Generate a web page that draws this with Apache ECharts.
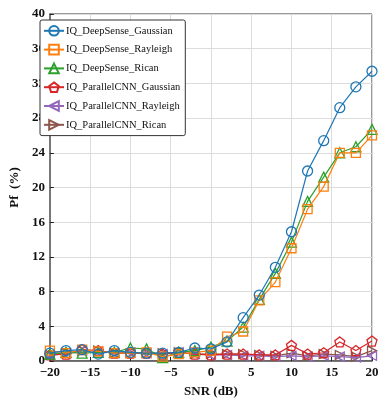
<!DOCTYPE html>
<html>
<head>
<meta charset="utf-8">
<script src="https://cdn.jsdelivr.net/npm/echarts@6/dist/echarts.min.js"></script>
<style>
  html, body { margin: 0; padding: 0; background: #fff; }
  #chart { width: 385px; height: 404px; }
</style>
</head>
<body>
<div id="chart"></div>
<script>
const snr = [-20, -18, -16, -14, -12, -10, -8, -6, -4, -2, 0, 2, 4, 6, 8, 10, 12, 14, 16, 18, 20];
const yTicks = [0, 4, 8, 12, 16, 20, 24, 28, 32, 36, 40];

const dsGaussian = [0.9, 1.2, 1.3, 0.8, 1.2, 1.0, 0.9, 0.9, 1.0, 1.5, 1.4, 2.2, 5.0, 7.6, 10.8, 14.9, 21.9, 25.4, 29.2, 31.6, 33.4];
const dsRayleigh = [1.2, 0.9, 1.3, 1.1, 0.9, 0.9, 1.0, 0.5, 0.8, 1.0, 1.2, 2.8, 3.4, 7.0, 9.1, 13.0, 17.5, 20.1, 24.0, 24.0, 26.0];
const dsRican = [0.8, 1.0, 0.9, 1.0, 1.0, 1.5, 1.4, 0.4, 1.0, 1.2, 1.6, 2.3, 3.9, 7.1, 10.1, 13.7, 18.4, 21.2, 24.0, 24.7, 26.7];
const pcGaussian = [0.7, 0.8, 1.3, 1.2, 0.9, 0.9, 0.9, 0.8, 1.0, 0.8, 0.7, 0.8, 0.8, 0.7, 0.7, 1.8, 0.8, 0.95, 2.2, 1.2, 2.3];
const pcRayleigh = [0.7, 0.8, 1.2, 1.1, 0.9, 1.0, 0.9, 0.8, 1.0, 0.8, 0.7, 0.7, 0.6, 0.6, 0.5, 0.6, 0.5, 0.6, 0.5, 0.4, 0.6];
const pcRican = [0.7, 0.9, 1.2, 1.2, 0.9, 0.9, 0.9, 0.9, 1.0, 0.8, 0.8, 0.8, 0.8, 0.7, 0.6, 0.9, 0.6, 0.8, 0.7, 0.5, 1.2];

const names = ["IQ_DeepSense_Gaussian", "IQ_DeepSense_Rayleigh", "IQ_DeepSense_Rican",
  "IQ_ParallelCNN_Gaussian", "IQ_ParallelCNN_Rayleigh", "IQ_ParallelCNN_Rican"];
const colors = ["#1f77b4", "#ff7f0e", "#2ca02c", "#d62728", "#9467bd", "#8c564b"];
const symbols = [
  "circle",
  "rect",
  "triangle",
  "path://M50,0 L97.6,34.5 L79.4,90.5 L20.6,90.5 L2.4,34.5 Z",
  "path://M0,50 L100,0 L100,100 Z",
  "path://M100,50 L0,0 L0,100 Z"
];
const sizes = [10, 9, 10, 10, 9, 9];
const allData = [dsGaussian, dsRayleigh, dsRican, pcGaussian, pcRayleigh, pcRican];

const font = "Liberation Serif, Times New Roman, serif";

let series = allData.map((d, i) => ({
  name: names[i],
  type: "line",
  data: d.map((v, k) => [snr[k], v]),
  symbol: symbols[i],
  symbolSize: sizes[i],
  showAllSymbol: true,
  lineStyle: { color: colors[i], width: 1.2 },
  itemStyle: { color: "rgba(255,255,255,0)", borderColor: colors[i], borderWidth: 1.3 },
  z: 10 - i,
}));

let myChart = echarts.init(document.getElementById("chart"));
let option = {
  animation: false,
  grid: {
    left: 34, right: 13, top: 14, bottom: 43, containLabel: false,
    show: true, borderColor: "#333", borderWidth: 1,
  },
  legend: {
    left: 40,
    top: 20,
    orient: "vertical",
    itemWidth: 20,
    itemHeight: 12,
    itemGap: 7.2,
    padding: [5, 5, 5, 3],
    borderColor: "#333",
    borderWidth: 1,
    borderRadius: 2,
    backgroundColor: "#fff",
    textStyle: { fontFamily: font, fontSize: 10.5, color: "#111", padding: [0, 0, 0, -3] },
    data: names,
    z: 20,
  },
  xAxis: {
    type: "value",
    min: -20,
    max: 20,
    interval: 5,
    name: "SNR (dB)",
    nameLocation: "middle",
    nameGap: 24,
    nameTextStyle: { fontFamily: font, fontWeight: "bold", fontSize: 13, color: "#111" },
    axisLine: { onZero: false, lineStyle: { color: "#555", width: 1.5 } },
    axisTick: { inside: true, length: 4, lineStyle: { color: "#222" } },
    axisLabel: {
      fontFamily: font, fontWeight: "bold", fontSize: 13, color: "#111", margin: 5,
      formatter: (v) => String(v).replace("-", "\u2212"),
    },
    splitLine: { show: true, lineStyle: { color: "#dcdcdc", width: 1 } },
  },
  yAxis: {
    type: "value",
    min: 0,
    max: 40,
    interval: 4,
    position: "left",
    name: "Pf  (%)",
    nameLocation: "middle",
    nameGap: 21,
    nameRotate: 90,
    nameTextStyle: { fontFamily: font, fontWeight: "bold", fontSize: 13, color: "#111" },
    axisLine: { show: true, onZero: false, lineStyle: { color: "#777", width: 2 } },
    axisTick: { show: true, inside: true, length: 4, lineStyle: { color: "#222" } },
    axisLabel: {
      fontFamily: font, fontWeight: "bold", fontSize: 13, color: "#111", margin: 5,
      formatter: (v) => (yTicks.indexOf(v) >= 0 ? String(v) : ""),
    },
    splitLine: { show: true, lineStyle: { color: "#dcdcdc", width: 1 } },
  },
  series: series,
};
myChart.setOption(option);
</script>
</body>
</html>
